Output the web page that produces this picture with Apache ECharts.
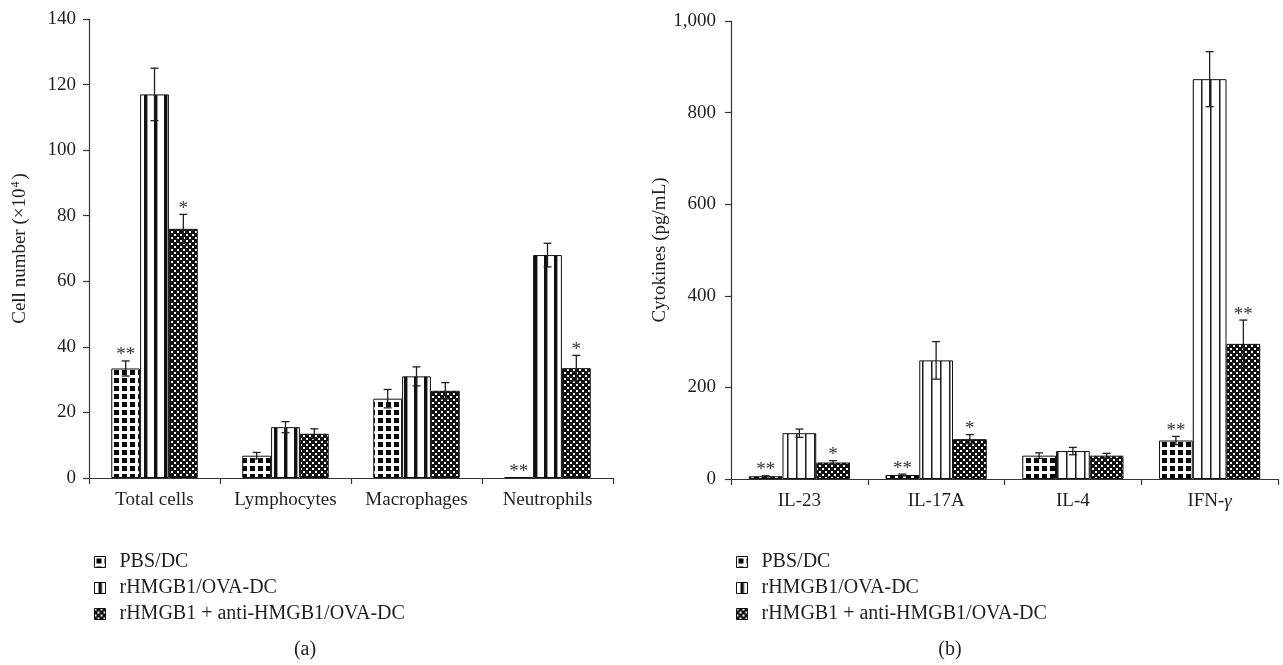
<!DOCTYPE html>
<html><head><meta charset="utf-8">
<script src="https://cdn.jsdelivr.net/npm/echarts@6/dist/echarts.min.js"></script>
<style>html,body{margin:0;padding:0;background:#fff}#c{width:1283px;height:665px}</style>
</head><body><div id="c"></div>
<script>
// ---------- data ----------
var seriesNames = ['PBS/DC', 'rHMGB1/OVA-DC', 'rHMGB1 + anti-HMGB1/OVA-DC'];

var catsA = ['Total cells', 'Lymphocytes', 'Macrophages', 'Neutrophils'];
var pbsA = [33.4, 6.8, 24.2, 0.3];
var rhA = [117, 15.5, 31.0, 68.0];
var antiA = [76.0, 13.5, 26.6, 33.5];
var pbsAErr = [2.3, 1.0, 2.8, 0];
var rhAErr = [8.0, 1.7, 2.9, 3.6];
var antiAErr = [4.4, 1.5, 2.5, 3.9];
var pbsASig = ['**', '', '', '**'];
var rhASig = ['', '', '', ''];
var antiASig = ['*', '', '', '*'];

var catsB = ['IL-23', 'IL-17A', 'IL-4', 'IFN-γ'];
var pbsB = [6, 8.7, 51, 84];
var rhB = [100, 259, 61, 873];
var antiB = [36, 87, 51, 295];
var pbsBErr = [1, 2, 6, 9];
var rhBErr = [9, 41, 8, 60];
var antiBErr = [4, 10, 5, 52];
var pbsBSig = ['**', '**', '', '**'];
var rhBSig = ['', '', '', ''];
var antiBSig = ['*', '*', '', '**'];

var yTitleA = 'Cell number (×10{sup|4})';
var yTitleB = 'Cytokines (pg/mL)';
var captionA = '(a)';
var captionB = '(b)';

// ---------- styles ----------
var FONT = "'Liberation Serif', 'Times New Roman', serif";
var INK = '#1f1f1f';

function tile(size, draw) {
  var c = document.createElement('canvas');
  c.width = size; c.height = size;
  var g = c.getContext('2d');
  draw(g, size);
  return {image: c, repeat: 'repeat'};
}
var patPBS = tile(8, function (g, s) {
  g.fillStyle = '#fff'; g.fillRect(0, 0, s, s);
  g.fillStyle = '#000'; g.fillRect(2, 2, 5, 5);
});
var patRhA = tile(10, function (g, s) {
  g.fillStyle = '#fff'; g.fillRect(0, 0, s, s);
  g.fillStyle = '#111'; g.fillRect(4, 0, 3, s);
  g.fillStyle = '#999'; g.fillRect(7, 0, 1, s);
});
var patRhB = tile(9, function (g, s) {
  g.fillStyle = '#fff'; g.fillRect(0, 0, s, s);
  g.fillStyle = '#222'; g.fillRect(4, 0, 1, s);
  g.fillStyle = '#888'; g.fillRect(5, 0, 1, s);
});
var patAnti = tile(6, function (g, s) {
  g.fillStyle = '#111'; g.fillRect(0, 0, s, s);
  g.fillStyle = '#fff'; g.fillRect(0, 0, 2, 2); g.fillRect(3, 3, 2, 2);
});

var chart = echarts.init(document.getElementById('c'), null, {renderer: 'canvas'});

function errData(means, errs, sigs) {
  var out = [];
  for (var j = 0; j < 3; j++) {
    for (var i = 0; i < means[j].length; i++) {
      out.push({value: [i, j, means[j][i] - errs[j][i], means[j][i] + errs[j][i], errs[j][i]], sig: sigs[j][i]});
    }
  }
  return out;
}
var errA = errData([pbsA, rhA, antiA], [pbsAErr, rhAErr, antiAErr], [pbsASig, rhASig, antiASig]);
var errB = errData([pbsB, rhB, antiB], [pbsBErr, rhBErr, antiBErr], [pbsBSig, rhBSig, antiBSig]);

var gapA = 0.34, gapB = 0.26;

function makeRender(gap, list) {
  return function (params, api) {
    var cat = api.value(0), bi = api.value(1), lo = api.value(2), hi = api.value(3), e = api.value(4);
    var pLo = api.coord([cat, lo]);
    var pHi = api.coord([cat, hi]);
    var cw = api.size([1, 0])[0];
    var bw = cw * (1 - gap) / 3;
    var x = pLo[0] + (bi - 1) * bw;
    var children = [];
    var st = {stroke: INK, lineWidth: 1.3};
    if (e > 0) {
      children.push({type: 'line', shape: {x1: x, y1: pLo[1], x2: x, y2: pHi[1]}, style: st});
      children.push({type: 'line', shape: {x1: x - 4, y1: pHi[1], x2: x + 4, y2: pHi[1]}, style: st});
      children.push({type: 'line', shape: {x1: x - 4, y1: pLo[1], x2: x + 4, y2: pLo[1]}, style: st});
    }
    var sig = list[params.dataIndex].sig;
    if (sig) {
      children.push({type: 'text', style: {text: sig, x: x, y: pHi[1] + 4, align: 'center', verticalAlign: 'bottom',
        font: '19px ' + FONT, fill: '#333'}});
    }
    return {type: 'group', children: children};
  };
}

function barSeries(name, data, color, xi, gap) {
  return {
    name: name, type: 'bar', xAxisIndex: xi, yAxisIndex: xi, data: data,
    barGap: '0%', barCategoryGap: (gap * 100) + '%',
    itemStyle: {color: color, borderColor: '#111', borderWidth: 1},
    emphasis: {disabled: true}, animation: false
  };
}

var axisLine = {show: true, lineStyle: {color: '#333', width: 1.2}};
var axisTick = {show: true, length: 6, lineStyle: {color: '#333', width: 1.2}};
var labelStyle = {color: INK, fontFamily: FONT, fontSize: 19};

var legendCommon = {
  orient: 'vertical', top: 547, itemWidth: 11, itemHeight: 11, itemGap: 6,
  icon: 'rect', selectedMode: false,
  itemStyle: {borderColor: '#111', borderWidth: 1},
  textStyle: {color: INK, fontFamily: FONT, fontSize: 20, padding: [0, 0, 0, 9]},
  data: seriesNames
};

chart.setOption({
  animation: false,
  backgroundColor: '#fff',
  textStyle: {fontFamily: FONT},
  grid: [
    {left: 89, right: 1283 - 613, top: 19, bottom: 665 - 478},
    {left: 731, right: 5, top: 21, bottom: 665 - 479}
  ],
  legend: [
    Object.assign({left: 89}, legendCommon),
    Object.assign({left: 731}, legendCommon)
  ],
  xAxis: [
    {type: 'category', gridIndex: 0, data: catsA, axisLine: axisLine, axisTick: axisTick,
      axisLabel: Object.assign({margin: 13, interval: 0, hideOverlap: false}, labelStyle)},
    {type: 'category', gridIndex: 1, data: catsB, axisLine: axisLine, axisTick: axisTick,
      axisLabel: Object.assign({margin: 13, interval: 0, hideOverlap: false,
        formatter: function (v) { return v.replace('γ', '{g|γ}'); },
        rich: {g: {fontStyle: 'italic', fontFamily: FONT, fontSize: 19, color: INK}}}, labelStyle)}
  ],
  yAxis: [
    {type: 'value', gridIndex: 0, min: 0, max: 140, interval: 20, splitLine: {show: false},
      axisLine: axisLine, axisTick: axisTick, axisLabel: Object.assign({margin: 13}, labelStyle),
      name: yTitleA, nameLocation: 'middle', nameRotate: 90, nameGap: 59,
      nameTextStyle: {color: INK, fontFamily: FONT, fontSize: 19,
        rich: {sup: {fontSize: 12, verticalAlign: 'top', padding: [0, 2, 8, 1], fontFamily: FONT, color: INK}}}},
    {type: 'value', gridIndex: 1, min: 0, max: 1000, interval: 200, splitLine: {show: false},
      axisLine: axisLine, axisTick: axisTick,
      axisLabel: Object.assign({margin: 15, formatter: function (v) { return v.toLocaleString('en-US'); }}, labelStyle),
      name: yTitleB, nameLocation: 'middle', nameRotate: 90, nameGap: 34,
      nameTextStyle: {color: INK, fontFamily: FONT, fontSize: 19}}
  ],
  series: [
    barSeries(seriesNames[0], pbsA, patPBS, 0, gapA),
    barSeries(seriesNames[1], rhA, patRhA, 0, gapA),
    barSeries(seriesNames[2], antiA, patAnti, 0, gapA),
    barSeries(seriesNames[0], pbsB, patPBS, 1, gapB),
    barSeries(seriesNames[1], rhB, patRhB, 1, gapB),
    barSeries(seriesNames[2], antiB, patAnti, 1, gapB),
    {type: 'custom', xAxisIndex: 0, yAxisIndex: 0, data: errA, renderItem: makeRender(gapA, errA), z: 5, clip: false, silent: true},
    {type: 'custom', xAxisIndex: 1, yAxisIndex: 1, data: errB, renderItem: makeRender(gapB, errB), z: 5, clip: false, silent: true}
  ],
  graphic: [
    {type: 'text', x: 305, y: 650, style: {text: captionA, font: '20px ' + FONT, fill: INK, align: 'center', verticalAlign: 'middle'}},
    {type: 'text', x: 950, y: 650, style: {text: captionB, font: '20px ' + FONT, fill: INK, align: 'center', verticalAlign: 'middle'}}
  ]
});
</script>
</body></html>
